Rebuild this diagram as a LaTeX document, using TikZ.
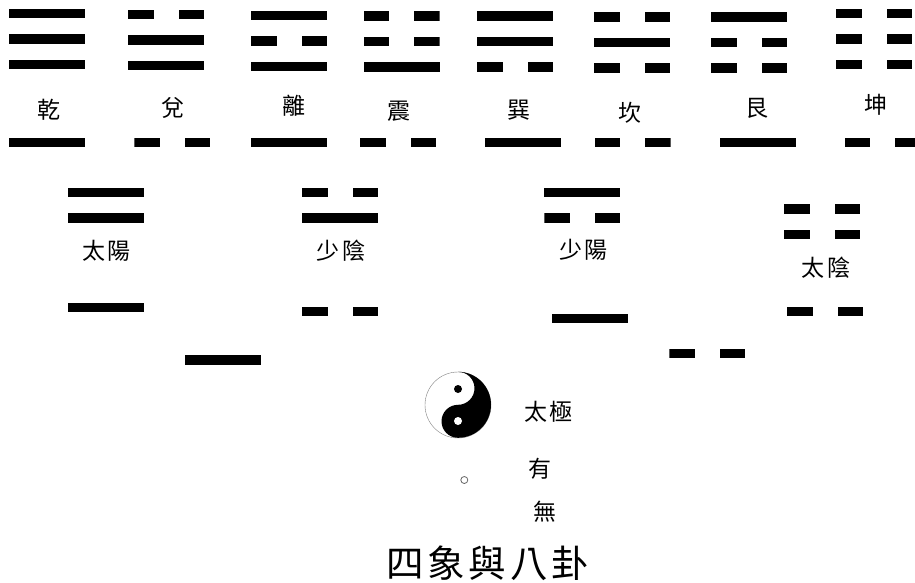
\documentclass[tikz,border=0pt]{standalone}
\usepackage{fontspec}
\usetikzlibrary{positioning}
\newfontfamily\cjk[LetterSpace=10]{Noto Sans CJK TC}
\tikzset{
yangbar/.style={rectangle, fill=black, inner sep=0pt, outer sep=0pt, minimum width=76pt, minimum height=9.4pt},
yinbar/.style={yangbar, fill=white, path picture={
  \fill[black] (path picture bounding box.south west) rectangle ([xshift=25.5pt]path picture bounding box.north west);
  \fill[black] (path picture bounding box.south east) rectangle ([xshift=-25.5pt]path picture bounding box.north east);}},
guaname/.style={inner sep=0pt, font=\cjk\fontsize{23}{27}\selectfont},
titlename/.style={inner sep=0pt, font=\cjk\fontsize{37.5}{44}\selectfont}
}

\begin{document}
\begin{tikzpicture}[x=1pt, y=-1pt, node distance=16.1pt]
\clip (0,0) rectangle (915,583);
%Trigrams
\node [yangbar] (qianC) at (47,64.5) {};
\node [yangbar] (qianB) [above=of qianC] {};
\node [yangbar] (qianA) [above=of qianB] {};
\node [yangbar] (duiC) at (166,65.5) {};
\node [yangbar] (duiB) [above=of duiC] {};
\node [yinbar] (duiA) [above=of duiB] {};
\node [yangbar] (liC) at (289,66.7) {};
\node [yinbar] (liB) [above=of liC] {};
\node [yangbar] (liA) [above=of liB] {};
\node [yangbar] (zhenC) at (401.5,67) {};
\node [yinbar] (zhenB) [above=of zhenC] {};
\node [yinbar] (zhenA) [above=of zhenB] {};
\node [yinbar] (xunC) at (515,67) {};
\node [yangbar] (xunB) [above=of xunC] {};
\node [yangbar] (xunA) [above=of xunB] {};
\node [yinbar] (kanC) at (632,68) {};
\node [yangbar] (kanB) [above=of kanC] {};
\node [yinbar] (kanA) [above=of kanB] {};
\node [yinbar] (genC) at (749,68) {};
\node [yinbar] (genB) [above=of genC] {};
\node [yangbar] (genA) [above=of genB] {};
\node [yinbar] (kunC) at (874,64.5) {};
\node [yinbar] (kunB) [above=of kunC] {};
\node [yinbar] (kunA) [above=of kunB] {};

%Trigram names
\node [guaname] (qian) at (49,110) {乾};
\node [guaname] (dui) at (173,108) {兌};
\node [guaname] (li) at (294,106) {離};
\node [guaname] (zhen) at (399,111) {震};
\node [guaname] (xun) at (519,110) {巽};
\node [guaname] (kan) at (630,113) {坎};
\node [guaname] (gen) at (757,108) {艮};
\node [guaname] (kun) at (876,105) {坤};

%Row under the names
\node [yangbar] (rowA) at (47,142.7) {};
\node [yinbar] (rowB) at (172.3,142.5) {};
\node [yangbar] (rowC) at (289.2,142.7) {};
\node [yinbar] (rowD) at (398.2,142.5) {};
\node [yangbar] (rowE) at (523.2,142.7) {};
\node [yinbar] (rowF) at (632.7,142.5) {};
\node [yangbar] (rowG) at (758,142.7) {};
\node [yinbar] (rowH) at (882.7,142.5) {};

%Four images
\node [yangbar] (taiyangB) at (106,218) {};
\node [yangbar] (taiyangA) [above=of taiyangB] {};
\node [yangbar] (shaoyinB) at (340,218) {};
\node [yinbar] (shaoyinA) [above=of shaoyinB] {};
\node [yinbar] (shaoyangB) at (582.3,218) {};
\node [yangbar] (shaoyangA) [above=of shaoyangB] {};
\node [yinbar] (taiyinB) at (822.2,234.3) {};
\node [yinbar] (taiyinA) [above=of taiyinB] {};
\node [guaname] (taiyang) at (106.5,251) {太陽};
\node [guaname] (shaoyin) at (341,251) {少陰};
\node [guaname] (shaoyang) at (583.5,250) {少陽};
\node [guaname] (taiyin) at (826,267.7) {太陰};

%Lower lines
\node [yangbar] (lowA) at (105.5,307.7) {};
\node [yinbar] (lowB) at (340,311.3) {};
\node [yangbar] (lowC) at (590.3,318.7) {};
\node [yinbar] (lowD) at (825,311.3) {};
\node [yangbar] (yang) at (223,360) {};
\node [yinbar] (yin) at (707.3,353.7) {};

%Taiji
\node [circle, draw=black!50, fill=white, inner sep=0pt, minimum size=66pt] (taiji) at (458,405) {};
\fill (taiji.north) arc [start angle=90, end angle=-90, radius=33pt]
  arc [start angle=-90, end angle=-270, radius=16.5pt]
  arc [start angle=-90, end angle=90, radius=16.5pt] -- cycle;
\node [circle, fill=black, inner sep=0pt, minimum size=8pt] (dotA) at (458,389) {};
\node [circle, fill=white, inner sep=0pt, minimum size=8pt] (dotB) at (458,421) {};
\node [guaname] (taijiname) at (548.5,411.7) {太極};
\node [circle, draw=black!60, thick, inner sep=0pt, minimum size=7pt] (ling) at (464.3,480) {};
\node [guaname] (you) at (540,469) {有};
\node [guaname] (wu) at (545,511.7) {無};

%Title
\node [titlename] (title) at (487.5,563) {四象與八卦};

\end{tikzpicture}
\end{document}
